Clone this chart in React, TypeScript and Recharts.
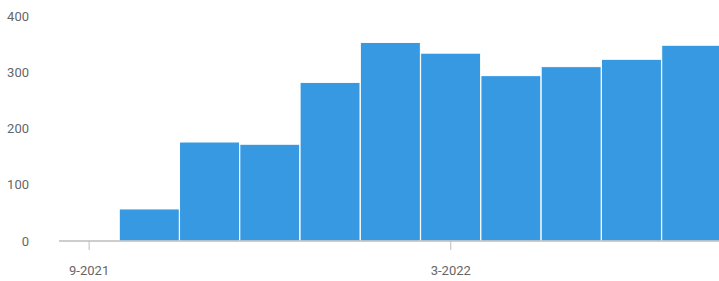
import { BarChart, Bar, XAxis, YAxis } from 'recharts'

const months = ['9-2021', '10-2021', '11-2021', '12-2021', '1-2022', '2-2022', '3-2022', '4-2022', '5-2022', '6-2022', '7-2022']
const counts = [0, 57, 176, 172, 282, 353, 334, 294, 310, 323, 348]
const yTicks = [0, 100, 200, 300, 400]

const data = months.map((m, i) => ({ month: m, count: counts[i] }))

const tickStyle = { fill: '#666', fontSize: 13, fontFamily: 'Roboto, sans-serif' }

export default function App() {
  return (
    <div style={{ position: 'fixed', left: 0, top: 0, width: 719, height: 281, overflow: 'hidden', background: '#fff' }}>
      <BarChart
        width={730}
        height={281}
        data={data}
        barCategoryGap={0}
        margin={{ top: 16, right: 8, bottom: 0, left: 0 }}
      >
        <XAxis
          dataKey="month"
          interval={5}
          height={40}
          tick={tickStyle}
          tickSize={9}
          tickMargin={16}
          stroke="#bdbdbd"
          axisLine={{ stroke: '#bdbdbd', strokeWidth: 1.5 }}
          tickLine={{ stroke: '#bdbdbd' }}
        />
        <YAxis
          width={59}
          domain={[0, 400]}
          ticks={yTicks}
          tick={tickStyle}
          tickLine={false}
          axisLine={false}
          tickSize={0}
          tickMargin={30}
        />
        <Bar dataKey="count" fill="#3699e2" stroke="#fff" strokeWidth={1} isAnimationActive={false} />
      </BarChart>
    </div>
  )
}
